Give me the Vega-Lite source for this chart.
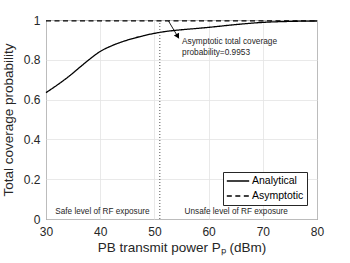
{
  "$schema": "https://vega.github.io/schema/vega-lite/v6.json",
  "width": 271,
  "height": 199,
  "autosize": "none",
  "padding": {"left": 46, "top": 20, "right": 33, "bottom": 44},
  "background": "white",
  "config": {
    "font": "Liberation Sans",
    "view": {"stroke": "#262626", "strokeWidth": 1},
    "axis": {
      "grid": true,
      "gridColor": "#e3e3e3",
      "gridWidth": 0.8,
      "domain": false,
      "ticks": false,
      "labelOverlap": false,
      "labelFlush": false,
      "labelFont": "Liberation Sans",
      "labelFontSize": 12,
      "labelColor": "#262626",
      "titleFont": "Liberation Sans",
      "titleFontSize": 13.5,
      "titleFontWeight": "normal",
      "titleColor": "#262626"
    },
    "axisY": {"values": [0, 0.2, 0.4, 0.6, 0.8, 1], "format": ".1~f"},
    "axisX": {"values": [30, 40, 50, 60, 70, 80]}
  },
  "datasets": {
    "curves": [
      {"p": 30, "prob": 0.635, "series": "Analytical"},
      {"p": 32, "prob": 0.672, "series": "Analytical"},
      {"p": 34, "prob": 0.712, "series": "Analytical"},
      {"p": 36, "prob": 0.757, "series": "Analytical"},
      {"p": 38, "prob": 0.802, "series": "Analytical"},
      {"p": 40, "prob": 0.842, "series": "Analytical"},
      {"p": 42, "prob": 0.869, "series": "Analytical"},
      {"p": 44, "prob": 0.89, "series": "Analytical"},
      {"p": 46, "prob": 0.907, "series": "Analytical"},
      {"p": 48, "prob": 0.921, "series": "Analytical"},
      {"p": 50, "prob": 0.933, "series": "Analytical"},
      {"p": 52, "prob": 0.942, "series": "Analytical"},
      {"p": 55, "prob": 0.951, "series": "Analytical"},
      {"p": 58, "prob": 0.958, "series": "Analytical"},
      {"p": 60, "prob": 0.963, "series": "Analytical"},
      {"p": 65, "prob": 0.977, "series": "Analytical"},
      {"p": 70, "prob": 0.988, "series": "Analytical"},
      {"p": 75, "prob": 0.993, "series": "Analytical"},
      {"p": 80, "prob": 0.995, "series": "Analytical"},
      {"p": 30, "prob": 0.9953, "series": "Asymptotic"},
      {"p": 80, "prob": 0.9953, "series": "Asymptotic"}
    ],
    "vline": [{"p": 51, "y0": 0, "y1": 1}],
    "arrow": [{"x0": 52.6, "y0": 0.995, "x1": 54.5, "y1": 0.908}],
    "head": [{"x": 54.3, "y": 0.918}],
    "notes": [
      {"x": 55.1, "y": 0.889, "label": "Asymptotic total coverage"},
      {"x": 55.1, "y": 0.836, "label": "probability=0.9953"}
    ],
    "regions": [
      {"x": 40.4, "y": 0.037, "label": "Safe level of RF exposure"},
      {"x": 65.1, "y": 0.037, "label": "Unsafe level of RF exposure"}
    ]
  },
  "layer": [
    {
      "data": {"name": "curves"},
      "mark": {"type": "line", "color": "black", "strokeWidth": 1.3, "interpolate": "monotone"},
      "encoding": {
        "x": {
          "field": "p", "type": "quantitative",
          "scale": {"domain": [30, 80], "nice": false, "zero": false},
          "axis": {"values": [30, 40, 50, 60, 70, 80], "title": "PB transmit power Pₚ (dBm)", "labelPadding": 7, "titlePadding": 3}
        },
        "y": {
          "field": "prob", "type": "quantitative",
          "scale": {"domain": [0, 1], "nice": false},
          "axis": {"values": [0, 0.2, 0.4, 0.6, 0.8, 1], "tickCount": 6, "format": ".1~f", "title": "Total coverage probability", "labelPadding": 6, "titlePadding": 8}
        },
        "strokeDash": {
          "field": "series", "type": "nominal",
          "scale": {"domain": ["Analytical", "Asymptotic"], "range": [[1, 0], [5, 3.5]]},
          "legend": {
            "title": null,
            "orient": "none",
            "legendX": 177,
            "legendY": 152,
            "symbolType": "stroke",
            "symbolSize": 500,
            "symbolStrokeColor": "black",
            "symbolStrokeWidth": 1.3,
            "clipHeight": 12,
            "rowPadding": 3,
            "labelFont": "Liberation Sans",
            "labelFontSize": 10.5,
            "labelColor": "black",
            "labelOffset": 2,
            "padding": 3,
            "fillColor": "white",
            "strokeColor": "#262626",
            "cornerRadius": 0
          }
        }
      }
    },
    {
      "data": {"name": "vline"},
      "mark": {"type": "rule", "color": "#262626", "strokeWidth": 0.8, "strokeDash": [1, 2]},
      "encoding": {
        "x": {"field": "p", "type": "quantitative"},
        "y": {"field": "y0", "type": "quantitative"},
        "y2": {"field": "y1"}
      }
    },
    {
      "data": {"name": "arrow"},
      "mark": {"type": "rule", "color": "black", "strokeWidth": 0.9},
      "encoding": {
        "x": {"field": "x0", "type": "quantitative"},
        "y": {"field": "y0", "type": "quantitative"},
        "x2": {"field": "x1"},
        "y2": {"field": "y1"}
      }
    },
    {
      "data": {"name": "head"},
      "mark": {"type": "point", "shape": "triangle-down", "filled": true, "color": "black", "size": 35, "angle": 331, "opacity": 1},
      "encoding": {
        "x": {"field": "x", "type": "quantitative"},
        "y": {"field": "y", "type": "quantitative"}
      }
    },
    {
      "data": {"name": "notes"},
      "mark": {"type": "text", "align": "left", "baseline": "middle", "fontSize": 8.3, "color": "#262626", "font": "Liberation Sans"},
      "encoding": {
        "x": {"field": "x", "type": "quantitative"},
        "y": {"field": "y", "type": "quantitative"},
        "text": {"field": "label"}
      }
    },
    {
      "data": {"name": "regions"},
      "mark": {"type": "text", "align": "center", "baseline": "middle", "fontSize": 8.2, "color": "#262626", "font": "Liberation Sans"},
      "encoding": {
        "x": {"field": "x", "type": "quantitative"},
        "y": {"field": "y", "type": "quantitative"},
        "text": {"field": "label"}
      }
    }
  ]
}
